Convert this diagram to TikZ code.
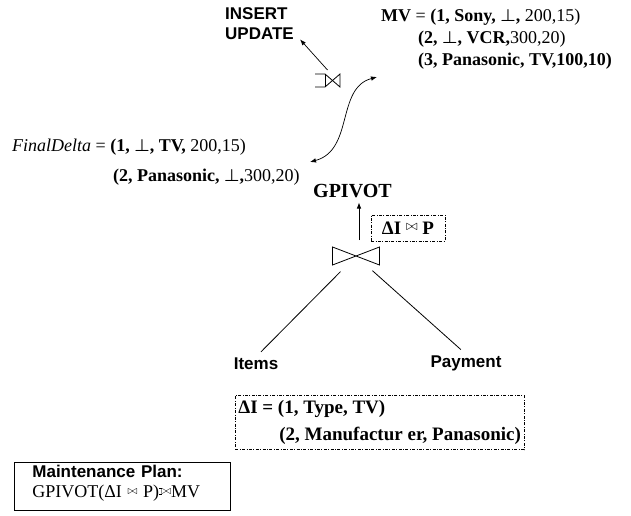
\documentclass[tikz,border=0pt]{standalone}
\usepackage{amsmath,amssymb}
\usepackage{fontspec}
\setmainfont{Liberation Serif}
\setsansfont{Liberation Sans}
\usepackage{tikz}
\usetikzlibrary{arrows.meta,positioning}
\newcommand{\jn}{\raisebox{0.45ex}{$\scriptstyle\bowtie$}}
\newcommand{\ljn}{\raisebox{0.45ex}{\rule{3pt}{0.5pt}\llap{\raisebox{5.9pt}{\rule{3pt}{0.5pt}}}\kern-0.6pt$\scriptstyle\bowtie$}}
\tikzset{
    rotulo/.style={
        font=\sffamily\bfseries\fontsize{17}{20}\selectfont,
        inner sep=1pt,
        align=left
    },
    tupla/.style={anchor=base west, inner sep=0pt},
    caixaPonto/.style={
        draw,
        line width=0.7pt,
        dash pattern=on 3pt off 1.5pt on 0.8pt off 1.5pt
    },
    operador/.style={inner sep=0pt, outer sep=0pt},
    linha/.style={line width=0.8pt},
    fluxo/.style={-{Latex[length=6pt,width=4.5pt]}, line width=0.7pt}
}

\begin{document}
\begin{tikzpicture}[x=1pt, y=-1pt, font=\fontsize{18}{22}\selectfont]
    \useasboundingbox (0,0) rectangle (631,516);
    % operadores de juncao
    \node[operador, minimum width=47pt, minimum height=18pt] (junta) at (356,256) {};
    \draw[linha] (junta.north west) -- (junta.south east) -- (junta.north east)
        -- (junta.south west) -- cycle;
    \node[operador, minimum width=25pt, minimum height=13pt] (ojunta) at (327.5,80.5) {};
    \draw[linha] (ojunta.north west) -- ([xshift=10pt]ojunta.north west)
        -- (ojunta.south east) -- (ojunta.north east)
        -- ([xshift=10pt]ojunta.south west) -- (ojunta.south west);
    \draw[linha] ([xshift=10pt]ojunta.north west) -- ([xshift=10pt]ojunta.south west);
    % rotulos
    \node[rotulo, anchor=north west] (acao) at (224,6) {INSERT\\UPDATE};
    \node[rotulo] (itens) at (256,364) {Items};
    \node[rotulo] (pagamento) at (466,363) {Payment};
    % visao materializada
    \node[tupla] (mv1) at (381,22)
        {\textbf{MV} = \textbf{(1, Sony, $\boldsymbol\perp$,} 200,15)};
    \node[tupla] (mv2) at ([xshift=37pt,yshift=-22pt]mv1.base west)
        {\textbf{(2, $\boldsymbol\perp$, VCR,}300,20)};
    \node[tupla] (mv3) at ([yshift=-22pt]mv2.base west)
        {\textbf{(3, Panasonic, TV,100,10)}};
    % delta final
    \node[tupla] (fd1) at (12,151)
        {\textit{FinalDelta} = \textbf{(1, $\boldsymbol\perp$, TV,} 200,15)};
    \node[tupla] (fd2) at ([xshift=101pt,yshift=-30pt]fd1.base west)
        {\textbf{(2, Panasonic, $\boldsymbol\perp$,}300,20)};
    \node[tupla, font=\bfseries\fontsize{20}{24}\selectfont] (gpivot) at (313,197) {GPIVOT};
    \node[caixaPonto, minimum width=74pt, minimum height=26pt, inner sep=2pt,
        font=\bfseries\fontsize{19}{22}\selectfont] (dj) at (408,228) {ΔI \jn\ P};
    % delta da tabela Items
    \node[caixaPonto, anchor=north west, inner xsep=3pt, inner ysep=5pt, align=left,
        font=\bfseries\fontsize{19}{27}\selectfont] (deltaI) at (235,395)
        {ΔI = (1, Type, TV)\\\hspace*{41pt}(2, Manufactur er, Panasonic)};
    % plano de manutencao
    \node[draw, line width=0.8pt, anchor=north west, text width=180pt, inner xsep=18pt,
        inner ysep=3pt, align=left, font=\fontsize{17}{20}\selectfont] (plano) at (14,462)
        {{\sffamily\bfseries Maintenance Plan:}\\
         {\fontsize{18}{20}\selectfont GPIVOT(ΔI \jn\ P)\ljn MV}\rule[-10pt]{0pt}{10pt}};
    % conexoes
    \coordinate (mvin) at (377,77);
    \coordinate (fdin) at (310,162);
    \draw[fluxo] ([yshift=4pt]ojunta.north) -- ([xshift=5pt,yshift=1pt]acao.south east);
    \draw[{Latex[length=6pt,width=4.5pt]}-{Latex[length=6pt,width=4.5pt]}, line width=0.7pt]
        (mvin) .. controls (336,88) and (354,150) .. (fdin);
    \draw[fluxo, shorten <=7pt, shorten >=5pt] ([xshift=3pt]junta.north)
        -- ([xshift=3pt]junta.north |- gpivot.south);
    \draw[linha, shorten <=22pt, shorten >=7pt] (junta.center) -- (itens.north);
    \draw[linha, shorten <=22pt, shorten >=7pt] (junta.center) -- (pagamento.north);
\end{tikzpicture}
\end{document}
